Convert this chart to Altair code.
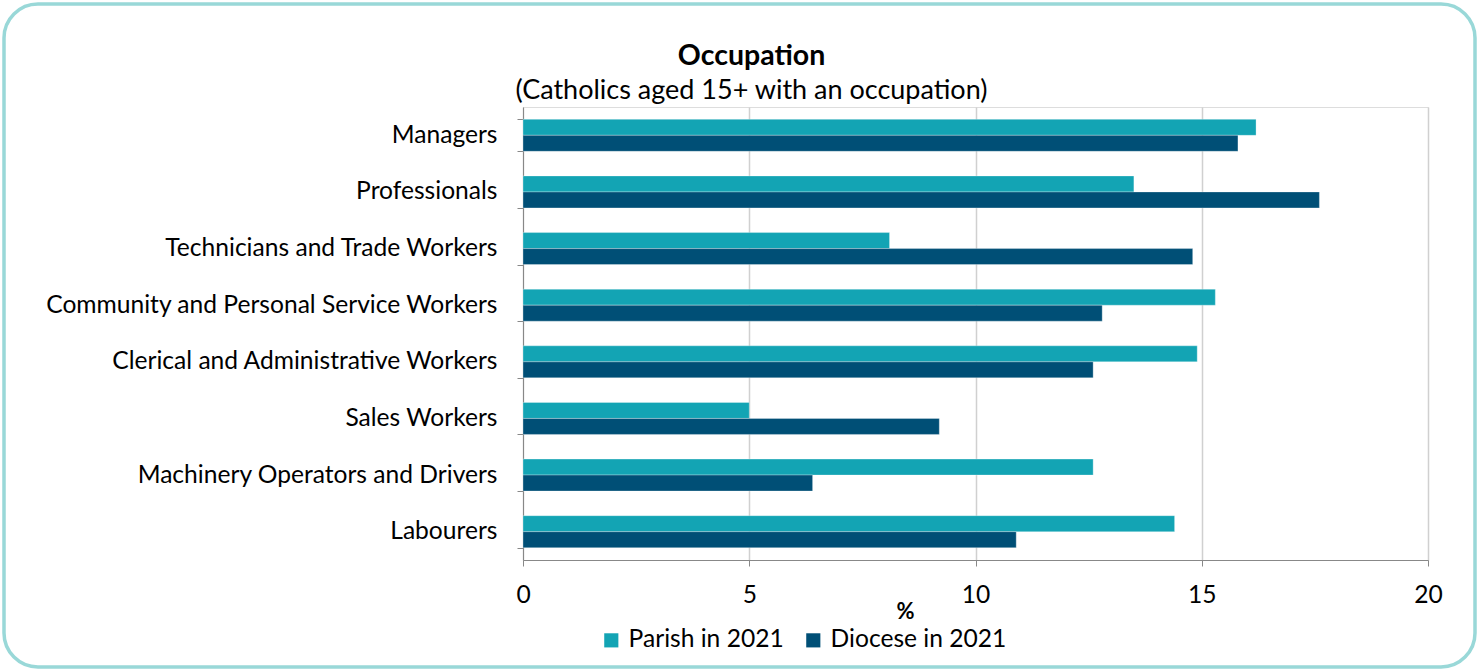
import altair as alt
import pandas as pd

categories = [
    "Managers",
    "Professionals",
    "Technicians and Trade Workers",
    "Community and Personal Service Workers",
    "Clerical and Administrative Workers",
    "Sales Workers",
    "Machinery Operators and Drivers",
    "Labourers",
]
parish = [16.2, 13.5, 8.1, 15.3, 14.9, 5.0, 12.6, 14.4]
diocese = [15.8, 17.6, 14.8, 12.8, 12.6, 9.2, 6.4, 10.9]
series = ["Parish in 2021", "Diocese in 2021"]
colors = ["#13A4B4", "#004F76"]
x_ticks = [0, 5, 10, 15, 20]

rows = []
for c, p, d in zip(categories, parish, diocese):
    rows.append({"Occupation": c, "Series": series[0], "Value": p})
    rows.append({"Occupation": c, "Series": series[1], "Value": d})
df = pd.DataFrame(rows)

FONT = "Lato"
FS = 24.6
W, H = 905, 453
PL, PT = 523, 107

bars = alt.Chart(df).mark_bar(stroke="white", strokeWidth=0.6, strokeOpacity=0.5).encode(
    y=alt.Y(
        "Occupation:N",
        sort=categories,
        title=None,
        scale=alt.Scale(paddingInner=0.435, paddingOuter=0.2175),
        axis=alt.Axis(
            tickBand="extent",
            tickSize=6,
            tickColor="#888888",
            domainColor="#888888",
            labelFontSize=FS,
            labelFont=FONT,
            labelColor="#000000",
            labelPadding=20,
            labelLimit=600,
        ),
    ),
    yOffset=alt.YOffset("Series:N", sort=series, scale=alt.Scale(paddingInner=0, paddingOuter=0)),
    x=alt.X(
        "Value:Q",
        scale=alt.Scale(domain=[0, 20], nice=False),
        title="%",
        axis=alt.Axis(
            values=x_ticks,
            tickSize=6,
            tickColor="#888888",
            domainColor="#888888",
            gridColor="#D0D0D0",
            gridWidth=1.5,
            labelFontSize=FS,
            labelFont=FONT,
            labelColor="#000000",
            labelPadding=17,
            labelFlush=False,
            titleFont=FONT,
            titleFontSize=22,
            titleFontWeight="bold",
            titleColor="#000000",
            titleX=382,
            titleY=41,
            titleAlign="center",
        ),
    ),
    color=alt.Color(
        "Series:N",
        sort=series,
        scale=alt.Scale(domain=series, range=colors),
        legend=alt.Legend(
            title=None,
            orient="none",
            direction="horizontal",
            legendX=76,
            legendY=521,
            symbolType="square",
            symbolSize=200,
            symbolStrokeWidth=0,
            labelFontSize=FS,
            labelFont=FONT,
            labelColor="#000000",
            labelOffset=5,
            columnPadding=17,
            labelLimit=400,
        ),
    ),
)

border = alt.Chart(alt.Data(values=[{}])).mark_rect(
    filled=False, stroke="#99D8D8", strokeWidth=3.5, cornerRadius=34
).encode(
    x=alt.value(4 - PL),
    x2=alt.value(1475 - PL),
    y=alt.value(4 - PT),
    y2=alt.value(667 - PT),
)

chart = alt.layer(bars, border).properties(
    width=W,
    height=H,
    autosize=alt.AutoSizeParams(type="none"),
    padding={"left": PL, "top": PT, "right": 1479 - PL - W, "bottom": 671 - PT - H},
    title=alt.TitleParams(
        text="Occupation",
        subtitle="(Catholics aged 15+ with an occupation)",
        font=FONT,
        fontSize=28.5,
        fontWeight="bold",
        color="#000000",
        subtitleFont=FONT,
        subtitleFontSize=27,
        subtitleColor="#000000",
        subtitlePadding=8,
        anchor="middle",
        dx=-224,
        offset=-102,
    ),
).configure_view(stroke=None).configure(background="white")

chart.save("out.html", embed_options={"renderer": "svg", "actions": False})
